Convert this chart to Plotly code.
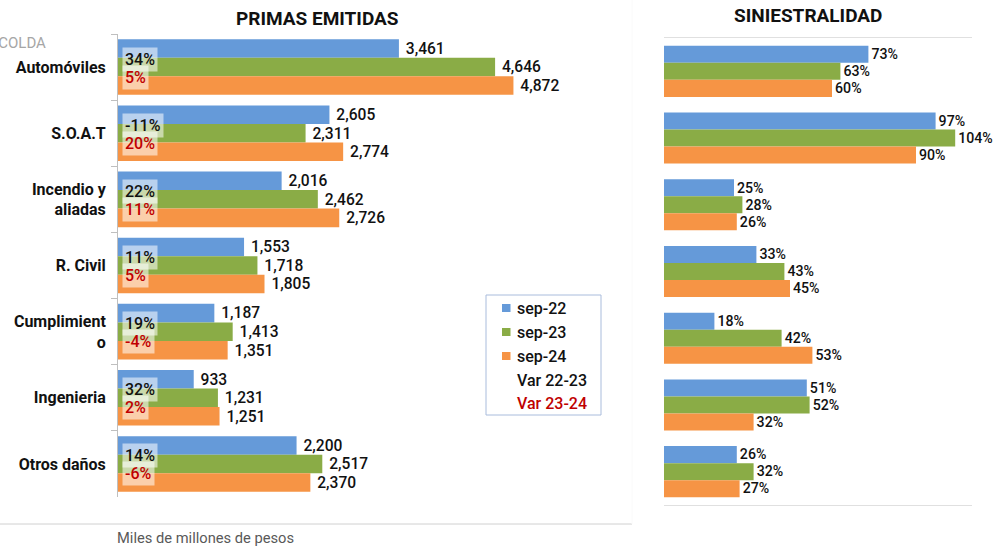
import plotly.graph_objects as go

categories = ["Automóviles", "S.O.A.T", "Incendio y<br>aliadas", "R. Civil", "Cumplimient<br>o", "Ingenieria", "Otros daños"]
series_names = ["sep-22", "sep-23", "sep-24"]
primas_22 = [3461, 2605, 2016, 1553, 1187, 933, 2200]
primas_23 = [4646, 2311, 2462, 1718, 1413, 1231, 2517]
primas_24 = [4872, 2774, 2726, 1805, 1351, 1251, 2370]
var_22_23 = ["34%", "-11%", "22%", "11%", "19%", "32%", "14%"]
var_23_24 = ["5%", "20%", "11%", "5%", "-4%", "2%", "-6%"]
var_names = ["Var 22-23", "Var 23-24"]
sini_22 = [73, 97, 25, 33, 18, 51, 26]
sini_23 = [63, 104, 28, 43, 42, 52, 32]
sini_24 = [60, 90, 26, 45, 53, 32, 27]

colors = ["#659ad9", "#8aac46", "#f69445"]
var_colors = ["#111111", "#c00000"]
W, H = 995, 548
FONT = "Roboto"


def px_x(x):
    return x / W


def px_y(y):
    return 1 - y / H


fig = go.Figure()

# Left chart: Primas emitidas
left_w = 0.28
left_off = [-0.42, -0.14, 0.14]
for name, vals, col, off in zip(series_names, [primas_22, primas_23, primas_24], colors, left_off):
    fig.add_trace(go.Bar(
        y=categories, x=vals, orientation="h", name=name,
        marker=dict(color=col, line=dict(width=0)),
        width=left_w, offset=off,
        text=[f"\u00a0{v:,}" for v in vals], textposition="outside",
        textfont=dict(family=FONT, size=16, color="#111111", weight=500),
        cliponaxis=False, showlegend=False,
        xaxis="x", yaxis="y",
    ))

# Right chart: Siniestralidad
right_w = 0.255
right_off = [-0.3825, -0.1275, 0.1275]
for name, vals, col, off in zip(series_names, [sini_22, sini_23, sini_24], colors, right_off):
    fig.add_trace(go.Bar(
        y=categories, x=vals, orientation="h", name=name,
        marker=dict(color=col, line=dict(width=0)),
        width=right_w, offset=off,
        text=[f"{v}%" for v in vals], textposition="outside",
        textfont=dict(family=FONT, size=15, color="#111111", weight=500),
        cliponaxis=False, showlegend=False,
        xaxis="x2", yaxis="y2",
    ))

# Variation annotations
annotations = []
for cat, v1, v2 in zip(categories, var_22_23, var_23_24):
    annotations.append(dict(x=0, y=cat, xref="x", yref="y", text=v1, showarrow=False,
                            xanchor="left", yanchor="middle", xshift=4, yshift=8,
                            font=dict(family=FONT, size=16, color=var_colors[0], weight=500),
                            bgcolor="rgba(255,255,255,0.55)", borderpad=2))
    annotations.append(dict(x=0, y=cat, xref="x", yref="y", text=v2, showarrow=False,
                            xanchor="left", yanchor="middle", xshift=4, yshift=-10,
                            font=dict(family=FONT, size=16, color=var_colors[1], weight=500),
                            bgcolor="rgba(255,255,255,0.55)", borderpad=2))

annotations += [
    dict(x=px_x(317), y=px_y(18), xref="paper", yref="paper", text="<b>PRIMAS EMITIDAS</b>",
         showarrow=False, xanchor="center", yanchor="middle",
         font=dict(family=FONT, size=19, color="#111111")),
    dict(x=px_x(808), y=px_y(16), xref="paper", yref="paper", text="<b>SINIESTRALIDAD</b>",
         showarrow=False, xanchor="center", yanchor="middle",
         font=dict(family=FONT, size=19, color="#111111")),
    dict(x=px_x(48), y=px_y(43), xref="paper", yref="paper", text="FASECOLDA",
         showarrow=False, xanchor="right", yanchor="middle",
         font=dict(family=FONT, size=15, color="#a6a6a6")),
    dict(x=px_x(115), y=px_y(538), xref="paper", yref="paper", text="Miles de millones de pesos",
         showarrow=False, xanchor="left", yanchor="middle",
         font=dict(family=FONT, size=14.7, color="#595959")),
]

shapes = [
    dict(type="line", xref="paper", yref="paper", x0=0, x1=px_x(632), y0=px_y(524), y1=px_y(524),
         line=dict(color="#d0d0d0", width=1)),
    dict(type="line", xref="paper", yref="paper", x0=px_x(632), x1=px_x(632), y0=px_y(524), y1=1,
         line=dict(color="#fafafa", width=1)),
    # legend box
    dict(type="rect", xref="paper", yref="paper", x0=px_x(486), x1=px_x(601), y0=px_y(415), y1=px_y(295),
         line=dict(color="#a9bcdc", width=1), fillcolor="white", layer="above"),
]

# Legend (drawn manually)
row_y = [308, 332, 356, 380, 403]
for i, (name, col) in enumerate(zip(series_names, colors)):
    shapes.append(dict(type="rect", xref="paper", yref="paper",
                       x0=px_x(502), x1=px_x(510.5), y0=px_y(row_y[i] + 4), y1=px_y(row_y[i] - 4),
                       line=dict(width=0), fillcolor=col, layer="above"))
    annotations.append(dict(x=px_x(515), y=px_y(row_y[i]), xref="paper", yref="paper", text=name,
                            showarrow=False, xanchor="left", yanchor="middle",
                            font=dict(family=FONT, size=16, color="#111111", weight=500)))
for j, (name, col) in enumerate(zip(var_names, var_colors)):
    annotations.append(dict(x=px_x(515), y=px_y(row_y[3 + j]), xref="paper", yref="paper", text=name,
                            showarrow=False, xanchor="left", yanchor="middle",
                            font=dict(family=FONT, size=16, color=col, weight=500)))

fig.update_layout(
    width=W, height=H,
    margin=dict(l=0, r=0, t=0, b=0),
    paper_bgcolor="white", plot_bgcolor="white",
    barmode="overlay", showlegend=False,
    font=dict(family=FONT, size=14, color="#111111"),
    xaxis=dict(domain=[px_x(118), px_x(605)], range=[0, 6000], showgrid=False, zeroline=False,
               showticklabels=False, showline=False, ticks=""),
    yaxis=dict(domain=[px_y(497), px_y(34)], autorange="reversed", showgrid=False,
               showline=True, linecolor="#bfbfbf", linewidth=1,
               ticks="outside", ticklen=6, tickcolor="#bfbfbf", tickson="boundaries",
               ticklabelstandoff=8,
               tickfont=dict(family=FONT, size=16, color="#111111", weight="bold"),
               anchor="x"),
    xaxis2=dict(domain=[px_x(664), px_x(972)], range=[0, 110], showgrid=False, zeroline=False,
                showticklabels=False, showline=True, mirror=True, linecolor="#e0e0e0",
                ticks="", anchor="y2"),
    yaxis2=dict(domain=[px_y(505), px_y(38)], autorange="reversed", showgrid=False,
                showline=False, showticklabels=False, ticks="", anchor="x2"),
    annotations=annotations,
    shapes=shapes,
)

fig.write_html("out.html", config={"displayModeBar": False},
               post_script="document.body.style.margin='0';document.body.style.overflow='hidden';")
